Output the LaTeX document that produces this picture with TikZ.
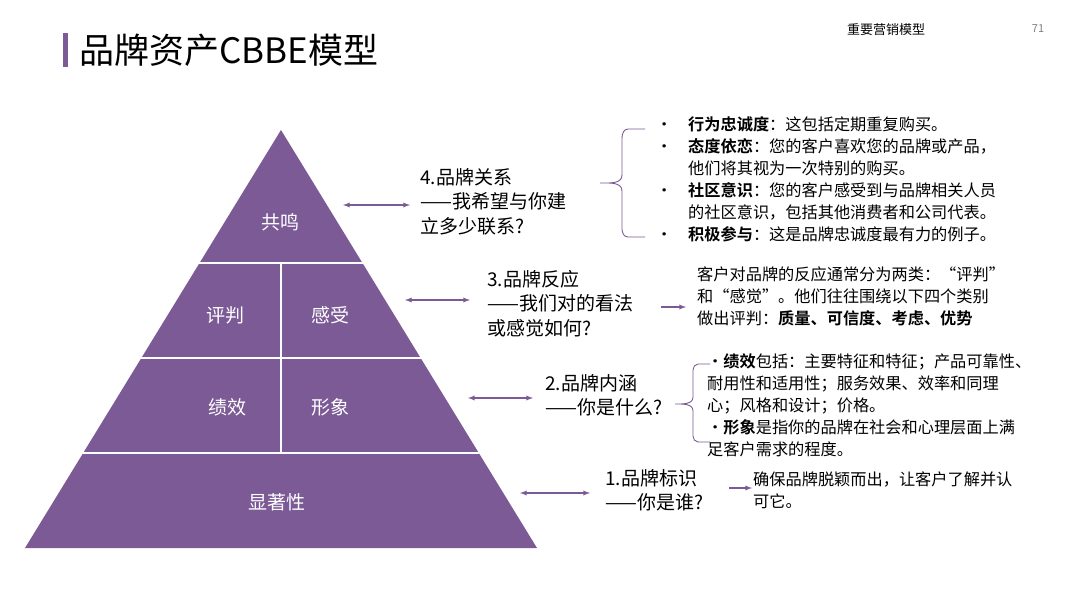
\documentclass[tikz,border=0pt]{standalone}
\usepackage{fontspec}
\setmainfont{Noto Sans CJK SC}[BoldFont={Noto Sans CJK SC Bold}]
\newcommand{\bul}{\llap{•\hspace{16pt}}}
\begin{document}
\begin{tikzpicture}[x=1pt,y=-1pt,
  lab/.style={anchor=north west,inner sep=0pt,align=left,font=\fontsize{19}{24.5}\selectfont},
  desc/.style={anchor=north west,inner sep=0pt,align=left,font=\fontsize{16.2}{22}\selectfont},
  pyr/.style={font=\fontsize{19}{22}\selectfont,text=white},
  dbl/.style={draw=pur,line width=1.3pt,<->,>=latex},
  sarr/.style={draw=pur,line width=1.3pt,->,>=latex},
  brc/.style={draw=pur,line width=0.9pt}]
\definecolor{pur}{HTML}{7B5A96}
\useasboundingbox (0,0) rectangle (1080,608);
\fill[white] (0,0) rectangle (1080,608);
\fill[pur] (63,33) rectangle (68,67);
\node[anchor=west,inner sep=0pt,font=\fontsize{35}{38}\selectfont] (title) at (79,50) {品牌资产CBBE模型};
\node[font=\fontsize{13}{15}\selectfont] (hdr) at (886,30) {重要营销模型};
\node[font=\fontsize{11}{12}\selectfont,text=gray] (pg) at (1038,29) {71};
% pyramid
\fill[pur] (281,130) -- (537,548) -- (25,548) -- cycle;
\draw[white,line width=1.3pt] (99.5,263) -- (462.5,263) (41.5,358) -- (520.5,358) (83,453) -- (479,453);
\draw[white,line width=1.3pt] (281,263) -- (281,453);
\node[pyr] (gm) at (280,222) {共鸣};
\node[pyr] (pp) at (225,315) {评判};
\node[pyr] (gs) at (330,315) {感受};
\node[pyr] (jx) at (227,407) {绩效};
\node[pyr] (xx) at (330,407) {形象};
\node[pyr] (xzx) at (277,502) {显著性};
% labels
\node[lab] (l4) at (420,168) {4.品牌关系\\——我希望与你建\\立多少联系?};
\node[lab] (l3) at (487,270) {3.品牌反应\\——我们对的看法\\或感觉如何?};
\node[lab] (l2) at (545,374) {2.品牌内涵\\——你是什么?};
\node[lab] (l1) at (605,469) {1.品牌标识\\——你是谁?};
\coordinate (a4l) at (343,205); \coordinate (a4r) at (410,205);
\coordinate (a3l) at (405,300); \coordinate (a3r) at (470,300);
\coordinate (a2l) at (468,398); \coordinate (a2r) at (533,398);
\coordinate (a1l) at (520,493); \coordinate (a1r) at (590,493);
\draw[dbl] (a4l) -- (a4r);
\draw[dbl] (a3l) -- (a3r);
\draw[dbl] (a2l) -- (a2r);
\draw[dbl] (a1l) -- (a1r);
\coordinate (s3a) at (661,307); \coordinate (s3b) at (686,307);
\coordinate (s1a) at (729,488); \coordinate (s1b) at (752,488);
\draw[sarr] (s3a) -- (s3b);
\draw[sarr] (s1a) -- (s1b);
% braces
\draw[brc] (645,129) -- (628,129) to[out=180,in=90] (622,138) -- (622,175) to[out=-90,in=0] (600,183) to[out=0,in=90] (622,191) -- (622,229) to[out=-90,in=180] (628,237) -- (645,237);
\draw[brc] (710,364) -- (698,364) to[out=180,in=90] (693,370) -- (693,397) to[out=-90,in=0] (675,404) to[out=0,in=90] (693,411) -- (693,436) to[out=-90,in=180] (698,442) -- (710,442);
% bullet list
\node[desc] (t4) at (688,116) {\bul\textbf{行为忠诚度}：这包括定期重复购买。\\
\bul\textbf{态度依恋}：您的客户喜欢您的品牌或产品，\\
他们将其视为一次特别的购买。\\
\bul\textbf{社区意识}：您的客户感受到与品牌相关人员\\
的社区意识，包括其他消费者和公司代表。\\
\bul\textbf{积极参与}：这是品牌忠诚度最有力的例子。};
\node[desc] (t3) at (697,267) {客户对品牌的反应通常分为两类：“评判”\\和“感觉”。他们往往围绕以下四个类别\\做出评判：\textbf{质量、可信度、考虑、优势}};
\node[desc] (t2) at (707,353) {•\textbf{绩效}包括：主要特征和特征；产品可靠性、\\耐用性和适用性；服务效果、效率和同理\\心；风格和设计；价格。\\•\textbf{形象}是指你的品牌在社会和心理层面上满\\足客户需求的程度。};
\node[desc] (t1) at (753,472) {确保品牌脱颖而出，让客户了解并认\\可它。};
\end{tikzpicture}
\end{document}
